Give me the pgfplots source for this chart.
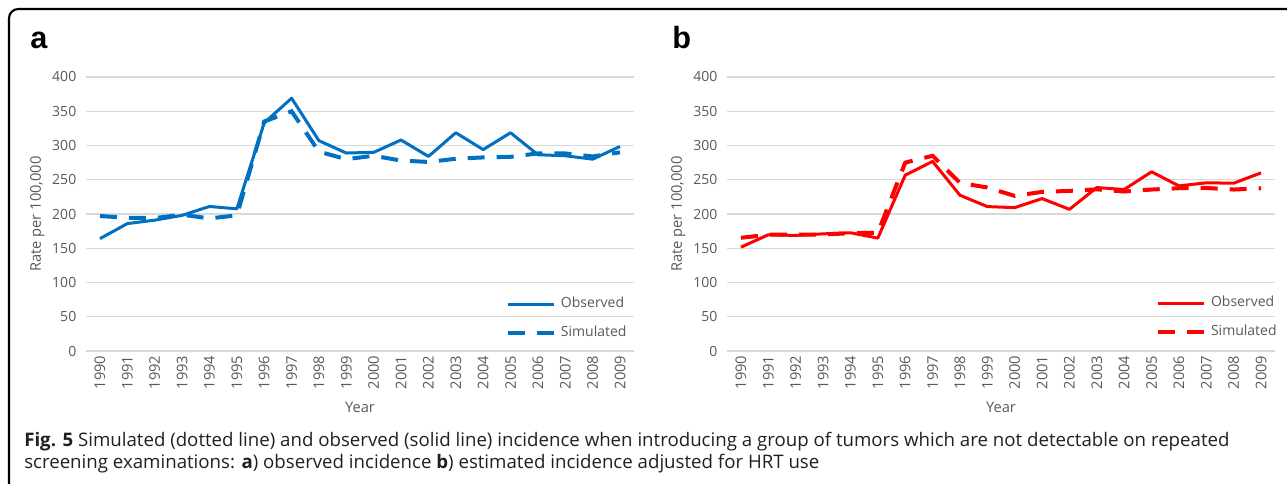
\documentclass[border=0pt]{standalone}
\usepackage{pgfplots}
\pgfplotsset{compat=1.18}
\usepackage{pgfplotstable}
\usepackage{fontspec}
\setmainfont{Open Sans}
\newfontfamily\letterfont{Liberation Sans}
\definecolor{obsblue}{HTML}{0070C0}
\definecolor{obsred}{HTML}{FF0000}
\definecolor{gridgray}{HTML}{D9D9D9}
\definecolor{textgray}{HTML}{595959}
\definecolor{captext}{HTML}{231F20}

\pgfplotstableread{
x year obsA simA obsB simB
0 1990 164 197 151.6 165.3
1 1991 186 194.5 169.7 169.7
2 1992 191 194 168.7 170
3 1993 198 199 171 170
4 1994 211 193.5 172.6 172
5 1995 207.5 198 164.8 172.6
6 1996 333 335 256.7 275
7 1997 369 350 276.8 285
8 1998 307 291 227.4 245.5
9 1999 289 280 210.8 238.6
10 2000 290 285 209.3 226.4
11 2001 308 278 222.5 232.3
12 2002 284 276 206.8 233.7
13 2003 318.6 280.6 238.6 236
14 2004 294 282.6 235.7 232.8
15 2005 318.6 283.5 261.6 235.7
16 2006 286.5 288.4 241 237.6
17 2007 285 288.4 245.5 238
18 2008 280 284 245 235.7
19 2009 298.6 290 260 237.6
}\data

\pgfplotsset{
  panel/.style={
    scale only axis,
    width=410.55pt, height=205.5pt,
    xmin=-0.5, xmax=19.5, ymin=0, ymax=400,
    axis line style={draw=none},
    tick style={draw=none},
    ytick={0,50,...,400},
    ymajorgrids,
    grid style={gridgray, line width=0.9pt},
    xtick={0,...,19},
    xticklabels={1990,1991,1992,1993,1994,1995,1996,1997,1998,1999,2000,2001,2002,2003,2004,2005,2006,2007,2008,2009},
    xticklabel style={rotate=90, anchor=east, font=\fontsize{11}{12}\selectfont, text=textgray},
    yticklabel style={font=\fontsize{10.5}{12}\selectfont, text=textgray, xshift=-4pt},
    /pgf/number format/assume math mode=true,
    xlabel={Year},
    ylabel={Rate per 100,000},
    label style={font=\fontsize{11}{13}\selectfont, text=textgray},
    xlabel style={at={(axis description cs:0.5,-0.204)}, anchor=center},
    ylabel style={at={(axis description cs:-0.0895,0.5)}, anchor=center, rotate=0},
    legend cell align=left,
    legend image code/.code={\draw[##1] (0pt,0pt) -- (34.5pt,0pt);},
    legend style={draw=none, fill=none, inner sep=0pt, outer sep=0pt,
      font=\fontsize{10.5}{12}\selectfont, text=textgray,
      row sep=11.9pt,
      nodes={inner sep=0pt, text height=7.6pt, text depth=2.2pt},
      /tikz/every odd column/.append style={column sep=3.75pt}},
  }
}

\begin{document}
\begin{tikzpicture}[x=0.75pt, y=0.75pt]
\path[use as bounding box] (0,0) rectangle (1287,484);
\draw[line width=1.6pt, black, rounded corners=7pt] (9,-5) -- (9,475) -- (1292,475);

\node[anchor=base west, inner sep=0pt, font=\letterfont\bfseries\fontsize{23}{26}\selectfont] at (30,435) {a};
\node[anchor=base west, inner sep=0pt, font=\letterfont\bfseries\fontsize{23}{26}\selectfont] at (672,435) {b};

\begin{axis}[panel, at={(64.725pt,99.75pt)}, anchor=south west,
  legend style={at={(axis description cs:0.7667,0.194)}, anchor=north west}]
\addplot[obsblue, line width=2.25pt, line join=round] table[x=x,y=obsA]{\data};
\addplot[obsblue, line width=3pt, dash pattern=on 12.75pt off 9pt] table[x=x,y=simA]{\data};
\legend{Observed,Simulated}
\end{axis}

\begin{axis}[panel, at={(545.475pt,99.75pt)}, anchor=south west,
  legend style={at={(axis description cs:0.7832,0.198)}, anchor=north west}]
\addplot[obsred, line width=2.25pt, line join=round] table[x=x,y=obsB]{\data};
\addplot[obsred, line width=3pt, dash pattern=on 12.75pt off 9pt] table[x=x,y=simB]{\data};
\legend{Observed,Simulated}
\end{axis}

\node[anchor=base west, inner sep=0pt, text=captext, font=\fontsize{14}{16}\selectfont] at (24,37) {\textbf{Fig. 5} Simulated (dotted line) and observed (solid line) incidence when introducing a group of tumors which are not detectable on repeated};
\node[anchor=base west, inner sep=0pt, text=captext, font=\fontsize{14}{16}\selectfont] at (24,15) {screening examinations: \textbf{a}) observed incidence \textbf{b}) estimated incidence adjusted for HRT use};
\end{tikzpicture}
\end{document}
